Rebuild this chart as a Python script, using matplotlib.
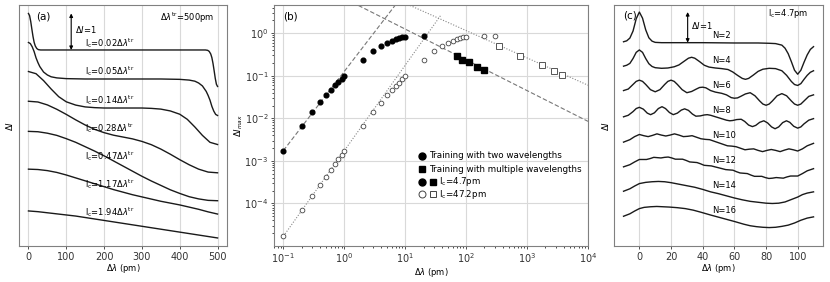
import matplotlib
matplotlib.use("Agg")
import matplotlib.pyplot as plt
from matplotlib.ticker import LogLocator, NullFormatter

# ---------------- panel (a): response for several correlation lengths ----------------
a_labels = ["0.02", "0.05", "0.14", "0.28", "0.47", "1.17", "1.94"]

a1_x = [0, 3, 6, 9, 12, 15, 18, 22, 26, 32, 40, 100, 200, 300, 400, 460, 468, 474, 478, 482, 485, 488, 491, 494, 497, 500]
a1_y = [1.0, 0.94, 0.78, 0.57, 0.37, 0.21, 0.11, 0.04, 0.01, 0.0, 0.0, 0.0, 0.0, 0.0, 0.0, 0.0, 0.0, -0.01, -0.04, -0.11, -0.21, -0.37, -0.57, -0.78, -0.94, -1.0]

a2_x = [0, 5, 10, 15, 20, 25, 30, 40, 50, 60, 75, 100, 150, 250, 350, 400, 425, 440, 450, 460, 470, 475, 480, 485, 490, 495, 500]
a2_y = [1.0, 0.97, 0.88, 0.75, 0.58, 0.45, 0.34, 0.19, 0.11, 0.06, 0.03, 0.01, 0.0, 0.0, 0.0, -0.01, -0.03, -0.06, -0.11, -0.19, -0.34, -0.45, -0.58, -0.75, -0.88, -0.97, -1.0]

a3_x = [0, 20, 40, 60, 80, 100, 125, 150, 175, 200, 250, 300, 325, 350, 375, 400, 420, 440, 460, 480, 500]
a3_y = [1.0, 0.94, 0.75, 0.52, 0.31, 0.17, 0.08, 0.03, 0.01, 0.0, 0.0, 0.0, -0.01, -0.03, -0.08, -0.17, -0.31, -0.52, -0.75, -0.94, -1.0]

a_grid = [0, 25, 50, 75, 100, 125, 150, 175, 200, 225, 250, 275, 300, 325, 350, 375, 400, 425, 450, 475, 500]
a4_y = [0.98, 0.96, 0.88, 0.76, 0.62, 0.47, 0.33, 0.21, 0.12, 0.05, 0.0, -0.05, -0.12, -0.21, -0.33, -0.47, -0.62, -0.76, -0.88, -0.96, -0.98]
a5_y = [0.95, 0.94, 0.9, 0.84, 0.75, 0.65, 0.53, 0.41, 0.28, 0.14, 0.0, -0.14, -0.28, -0.41, -0.53, -0.65, -0.75, -0.84, -0.9, -0.94, -0.95]
a6_y = [0.71, 0.70, 0.67, 0.62, 0.55, 0.47, 0.39, 0.31, 0.23, 0.15, 0.08, 0.01, -0.05, -0.11, -0.17, -0.22, -0.27, -0.33, -0.39, -0.46, -0.52]
a7_y = [0.36, 0.34, 0.31, 0.28, 0.25, 0.22, 0.18, 0.14, 0.10, 0.06, 0.02, -0.02, -0.06, -0.10, -0.14, -0.18, -0.22, -0.26, -0.30, -0.34, -0.38]

a_curves = [(a1_x, a1_y), (a2_x, a2_y), (a3_x, a3_y), (a_grid, a4_y),
            (a_grid, a5_y), (a_grid, a6_y), (a_grid, a7_y)]

# ---------------- panel (b): maximum response vs wavelength separation ----------------
two_s_x = [0.1, 0.2, 0.3, 0.4, 0.5, 0.6, 0.7, 0.8, 0.9, 1, 2, 3, 4, 5, 6, 7, 8, 9, 10, 20]
two_s_y = [1.75e-3, 6.6e-3, 0.0144, 0.024, 0.035, 0.047, 0.06, 0.072, 0.085, 0.1,
           0.24, 0.38, 0.50, 0.59, 0.67, 0.72, 0.76, 0.80, 0.83, 0.85]
multi_s_x = [70, 85, 110, 150, 200]
multi_s_y = [0.29, 0.24, 0.21, 0.165, 0.134]

two_l_x = [0.1, 0.2, 0.3, 0.4, 0.5, 0.6, 0.7, 0.8, 0.9, 1, 2, 3, 4, 5, 6, 7, 8, 9, 10,
           20, 30, 40, 50, 60, 70, 80, 90, 100, 200, 300]
two_l_y = [1.7e-5, 6.9e-5, 1.5e-4, 2.7e-4, 4.2e-4, 6.0e-4, 8.4e-4, 1.1e-3, 1.4e-3, 1.7e-3,
           6.7e-3, 0.0144, 0.023, 0.035, 0.046, 0.057, 0.069, 0.082, 0.098,
           0.24, 0.38, 0.50, 0.59, 0.67, 0.72, 0.76, 0.80, 0.82, 0.85, 0.85]
multi_l_x = [350, 780, 1750, 2750, 3800]
multi_l_y = [0.50, 0.29, 0.175, 0.127, 0.104]

fit_s_up_x, fit_s_up_y = [0.1, 6.8], [1.75e-3, 4.5]
fit_s_dn_x, fit_s_dn_y = [1.7, 1e4], [4.5, 0.0085]
fit_l_up_x, fit_l_up_y = [0.1, 38], [1.7e-5, 2.6]
fit_l_dn_x, fit_l_dn_y = [12, 1e4], [4.5, 0.06]

# ---------------- panel (c): response for N training wavelengths ----------------
c_labels = ["N=2", "N=4", "N=6", "N=8", "N=10", "N=12", "N=14", "N=16"]

c2_x = [-10, -8, -6, -4, -2, 0, 2, 4, 6, 8, 10, 14, 20, 40, 60, 75, 82, 86, 90, 92, 94, 96, 98, 100, 102, 104, 106, 108, 110]
c2_y = [0.03, 0.06, 0.15, 0.38, 0.78, 1.0, 0.80, 0.42, 0.16, 0.05, 0.01, 0.0, 0.0, 0.0, -0.01, -0.01, -0.02, -0.03, -0.08, -0.18, -0.36, -0.62, -0.9, -1.03, -0.9, -0.64, -0.4, -0.22, -0.13]

c4_x = [-10, -8, -6, -4, -2, 0, 2, 4, 6, 8, 10, 14, 18, 22, 25, 28, 31, 33, 35, 38, 41, 44, 48, 52, 56,
        59, 62, 65, 67, 69, 72, 75, 78, 82, 86, 90, 93, 96, 98, 100, 102, 104, 106, 108, 110]
c4_y = [0.05, 0.08, 0.14, 0.3, 0.5, 0.58, 0.5, 0.3, 0.13, 0.04, 0.0, -0.02, -0.01, 0.03, 0.09, 0.2, 0.31, 0.34, 0.31, 0.2, 0.08, 0.02, -0.01, -0.03, -0.06,
        -0.14, -0.25, -0.35, -0.38, -0.35, -0.24, -0.12, -0.05, -0.02, -0.03, -0.1, -0.25, -0.45, -0.55, -0.58, -0.52, -0.38, -0.25, -0.15, -0.1]

c6_x = [-10, -7, -4, -2, 0, 2, 4, 7, 10, 13, 16, 18, 20, 22, 24, 27, 30, 33, 36, 38, 40, 42, 45, 48,
        52, 55, 58, 60, 62, 64, 67, 70, 73, 76, 78, 80, 82, 84, 87, 90, 93, 96, 98, 100, 102, 104, 107, 110]
c6_y = [0.07, 0.12, 0.27, 0.37, 0.41, 0.37, 0.27, 0.1, 0.03, 0.1, 0.27, 0.37, 0.41, 0.37, 0.27, 0.1, 0.0, 0.04, 0.12, 0.17, 0.18, 0.16, 0.07, 0.02,
        -0.02, -0.07, -0.16, -0.18, -0.17, -0.12, -0.04, 0.0, -0.1, -0.27, -0.37, -0.41, -0.37, -0.27, -0.1, -0.03, -0.1, -0.27, -0.37, -0.41, -0.37, -0.27, -0.12, -0.07]

c8_x = [-10, -7, -4, -2, 0, 2.5, 5, 7.1, 9.5, 12, 14.3, 16.5, 19, 21.4, 24, 26.5, 28.6, 31, 33.5, 35.7, 38.5, 41, 42.9, 45, 47.5, 50,
        52.5, 55, 57.1, 59, 61.5, 64.3, 66.5, 69, 71.4, 73.5, 76, 78.6, 81, 83.5, 85.7, 88, 90.5, 92.9, 95, 97.5, 100, 102, 104, 107, 110]
c8_y = [0.03, 0.08, 0.2, 0.3, 0.34, 0.28, 0.15, 0.1, 0.16, 0.3, 0.36, 0.3, 0.17, 0.1, 0.15, 0.25, 0.29, 0.24, 0.12, 0.05, 0.06, 0.09, 0.1, 0.08, 0.04, 0.0,
        -0.04, -0.08, -0.1, -0.09, -0.06, -0.05, -0.12, -0.24, -0.29, -0.25, -0.15, -0.1, -0.17, -0.3, -0.36, -0.3, -0.16, -0.1, -0.15, -0.28, -0.34, -0.3, -0.2, -0.08, -0.03]

c10_x = [-10, -6, -3, 0, 2.8, 5.55, 8.3, 11.1, 13.9, 16.7, 19.4, 22.2, 25, 27.8, 30.5, 33.3, 36.1, 38.9, 41.7, 44.4, 47.2, 50,
         52.8, 55.6, 58.3, 61.1, 63.9, 66.7, 69.5, 72.2, 75, 77.8, 80.6, 83.3, 86.1, 88.9, 91.7, 94.45, 97.2, 100, 103, 106, 110]
c10_y = [0.02, 0.1, 0.2, 0.27, 0.23, 0.2, 0.24, 0.29, 0.25, 0.22, 0.25, 0.29, 0.25, 0.2, 0.21, 0.23, 0.18, 0.13, 0.11, 0.1, 0.05, 0.0,
         -0.05, -0.1, -0.11, -0.13, -0.18, -0.23, -0.21, -0.2, -0.25, -0.29, -0.25, -0.22, -0.25, -0.29, -0.24, -0.2, -0.23, -0.27, -0.2, -0.1, -0.02]

c12_x = [-10, -6, -3, 0, 2.3, 4.5, 6.8, 9.1, 11.4, 13.6, 15.9, 18.2, 20.5, 22.7, 25, 27.3, 29.5, 31.8, 34.1, 36.4, 38.6, 40.9, 43.2, 45.5, 47.7, 50,
         52.3, 54.5, 56.8, 59.1, 61.4, 63.6, 65.9, 68.2, 70.5, 72.7, 75, 77.3, 79.5, 81.8, 84.1, 86.4, 88.6, 90.9, 93.2, 95.5, 97.7, 100, 103, 106, 110]
c12_y = [0.03, 0.1, 0.19, 0.27, 0.27, 0.27, 0.3, 0.34, 0.33, 0.32, 0.34, 0.35, 0.32, 0.28, 0.28, 0.28, 0.24, 0.19, 0.18, 0.17, 0.13, 0.08, 0.07, 0.06, 0.03, 0.0,
         -0.03, -0.06, -0.07, -0.08, -0.13, -0.17, -0.18, -0.19, -0.24, -0.28, -0.28, -0.28, -0.32, -0.35, -0.34, -0.32, -0.33, -0.34, -0.3, -0.27, -0.27, -0.27, -0.19, -0.1, -0.03]

c14_x = [-10, -6, -3, 0, 4, 8, 12, 16, 20, 25, 30, 35, 40, 45, 50, 55, 60, 65, 70, 75, 80, 84, 88, 92, 96, 100, 103, 106, 110]
c14_y = [0.05, 0.13, 0.22, 0.3, 0.34, 0.36, 0.37, 0.36, 0.33, 0.28, 0.23, 0.18, 0.11, 0.03, -0.03, -0.1, -0.17, -0.23, -0.28, -0.31, -0.34, -0.35, -0.34, -0.3, -0.22, -0.14, -0.06, -0.01, 0.03]

c16_x = [-10, -6, -3, 0, 3, 7, 11, 15, 19, 24, 29, 34, 39, 45, 50, 55, 60, 66, 70, 74, 78, 82, 86, 90, 94, 98, 102, 106, 110]
c16_y = [0.05, 0.13, 0.22, 0.3, 0.34, 0.36, 0.37, 0.36, 0.35, 0.33, 0.3, 0.25, 0.18, 0.09, 0.02, -0.05, -0.12, -0.21, -0.26, -0.29, -0.31, -0.32, -0.31, -0.28, -0.24, -0.17, -0.08, -0.01, 0.03]

c_curves = [(c2_x, c2_y), (c4_x, c4_y), (c6_x, c6_y), (c8_x, c8_y),
            (c10_x, c10_y), (c12_x, c12_y), (c14_x, c14_y), (c16_x, c16_y)]

FS = 7       # tick labels
FS_T = 6     # annotations / axis labels
FS_L = 6.3   # legend
LINE = "#1a1a1a"
GRID = "#d9d9d9"
SPINE = "#808080"

plt.rcParams["font.family"] = ["DejaVu Sans"]
plt.rcParams["font.size"] = FS
plt.rcParams["mathtext.fontset"] = "dejavusans"

fig = plt.figure(figsize=(8.3, 2.82), dpi=100)
bottom, height = 0.1277, 0.853
ax_a = fig.add_axes([0.0229, bottom, 0.2506, height])
ax_b = fig.add_axes([0.3301, bottom, 0.3783, height])
ax_c = fig.add_axes([0.7398, bottom, 0.2518, height])


def style_axes(ax):
    for sp in ax.spines.values():
        sp.set_color(SPINE)
        sp.set_linewidth(0.8)
    ax.tick_params(labelsize=FS, colors="#333333", length=2.5, width=0.6, pad=1.5)
    ax.tick_params(which="minor", length=1.6, width=0.5)


# ---- (a)
a_step = 0.795
for k, (x, y) in enumerate(a_curves):
    ax_a.plot(x, [v - k * a_step for v in y], color=LINE, lw=1.0)
    ax_a.text(150, 0.18 - 0.77 * k,
              r"l$_\mathregular{c}$=" + a_labels[k] + r"$\Delta\lambda^\mathregular{tr}$",
              fontsize=FS_T, va="center", ha="left")
ax_a.annotate("", xy=(113, 0.0), xytext=(113, 1.0),
              arrowprops=dict(arrowstyle="<|-|>", color="k", lw=0.8,
                              mutation_scale=5, shrinkA=0, shrinkB=0))
ax_a.text(122, 0.55, r"$\Delta I$=1", fontsize=FS_T, va="center")
ax_a.text(20, 0.91, "(a)", fontsize=7.5, va="center")
ax_a.text(492, 0.87, r"$\Delta\lambda^\mathregular{tr}$=500pm", fontsize=FS_T, va="center", ha="right")
ax_a.set_xlim(-25, 525)
ax_a.set_ylim(-5.37, 1.22)
ax_a.set_xticks([0, 100, 200, 300, 400, 500])
ax_a.set_yticks([])
ax_a.grid(axis="x", color=GRID, lw=0.8)
ax_a.set_axisbelow(True)
ax_a.set_xlabel(r"$\Delta\lambda$ (pm)", fontsize=FS_T, labelpad=0.5)
ax_a.set_ylabel(r"$\Delta I$", fontsize=FS_T)
ax_a.yaxis.set_label_coords(-0.02, 0.5)
style_axes(ax_a)

# ---- (b)
ax_b.plot(fit_s_up_x, fit_s_up_y, color="#777777", lw=0.8, ls=(0, (4, 2)))
ax_b.plot(fit_s_dn_x, fit_s_dn_y, color="#777777", lw=0.8, ls=(0, (4, 2)))
ax_b.plot(fit_l_up_x, fit_l_up_y, color="#888888", lw=0.8, ls=(0, (1, 1.5)))
ax_b.plot(fit_l_dn_x, fit_l_dn_y, color="#888888", lw=0.8, ls=(0, (1, 1.5)))
ax_b.plot(two_s_x, two_s_y, "o", color="k", ms=3.4)
ax_b.plot(multi_s_x, multi_s_y, "s", color="k", ms=4.6)
ax_b.plot(two_l_x, two_l_y, "o", mfc="white", mec="#444444", mew=0.6, ms=3.4)
ax_b.plot(multi_l_x, multi_l_y, "s", mfc="white", mec="#555555", mew=0.7, ms=4.4)
ax_b.set_xscale("log")
ax_b.set_yscale("log")
ax_b.set_xlim(0.07, 1e4)
ax_b.set_ylim(1e-5, 4.5)
ax_b.xaxis.set_minor_locator(LogLocator(base=10, subs=range(2, 10), numticks=20))
ax_b.yaxis.set_minor_locator(LogLocator(base=10, subs=range(2, 10), numticks=20))
ax_b.xaxis.set_minor_formatter(NullFormatter())
ax_b.yaxis.set_minor_formatter(NullFormatter())
ax_b.set_yticks([1e-4, 1e-3, 1e-2, 1e-1, 1e0])
ax_b.grid(which="major", color=GRID, lw=0.8)
ax_b.set_axisbelow(True)
ax_b.set_xlabel(r"$\Delta\lambda$ (pm)", fontsize=FS_T, labelpad=0.5)
ax_b.set_ylabel(r"$\Delta I_{max}$", fontsize=FS_T)
ax_b.yaxis.set_label_coords(-0.092, 0.5)
ax_b.text(0.028, 0.956, "(b)", transform=ax_b.transAxes, fontsize=7.5, va="center")

# hand-made legend
rows = [0.376, 0.320, 0.267, 0.215]
tr = ax_b.transAxes
ax_b.plot([0.470], [rows[0]], "o", color="k", ms=5.0, transform=tr, clip_on=False)
ax_b.plot([0.470], [rows[1]], "s", color="k", ms=4.4, transform=tr, clip_on=False)
ax_b.plot([0.470], [rows[2]], "o", color="k", ms=5.0, transform=tr, clip_on=False)
ax_b.plot([0.507], [rows[2]], "s", color="k", ms=4.4, transform=tr, clip_on=False)
ax_b.plot([0.470], [rows[3]], "o", mfc="white", mec="#444444", mew=0.7, ms=5.0, transform=tr, clip_on=False)
ax_b.plot([0.507], [rows[3]], "s", mfc="white", mec="#444444", mew=0.7, ms=4.4, transform=tr, clip_on=False)
ax_b.text(0.495, rows[0], "Training with two wavelengths", transform=tr, va="center", fontsize=FS_L)
ax_b.text(0.495, rows[1], "Training with multiple wavelengths", transform=tr, va="center", fontsize=FS_L)
ax_b.text(0.525, rows[2], r"l$_\mathregular{c}$=4.7pm", transform=tr, va="center", fontsize=FS_L)
ax_b.text(0.525, rows[3], r"l$_\mathregular{c}$=47.2pm", transform=tr, va="center", fontsize=FS_L)
style_axes(ax_b)

# ---- (c)
c_step = 0.817
for k, (x, y) in enumerate(c_curves):
    ax_c.plot(x, [v - k * c_step for v in y], color=LINE, lw=1.0)
    ax_c.text(46, 0.25 - k * c_step, c_labels[k], fontsize=FS_T, va="center", ha="left")
ax_c.annotate("", xy=(30.5, 0.0), xytext=(30.5, 1.0),
              arrowprops=dict(arrowstyle="<|-|>", color="k", lw=0.8,
                              mutation_scale=5, shrinkA=0, shrinkB=0))
ax_c.text(32.4, 0.55, r"$\Delta I$=1", fontsize=FS_T, va="center")
ax_c.text(-10.5, 0.9, "(c)", fontsize=7.5, va="center")
ax_c.text(107, 0.94, r"l$_\mathregular{c}$=4.7pm", fontsize=FS_T, va="center", ha="right")
ax_c.set_xlim(-16, 116)
ax_c.set_ylim(-6.64, 1.216)
ax_c.set_xticks([0, 20, 40, 60, 80, 100])
ax_c.set_yticks([])
ax_c.grid(axis="x", color=GRID, lw=0.8)
ax_c.set_axisbelow(True)
ax_c.set_xlabel(r"$\Delta\lambda$ (pm)", fontsize=FS_T, labelpad=0.5)
ax_c.set_ylabel(r"$\Delta I$", fontsize=FS_T)
ax_c.yaxis.set_label_coords(-0.014, 0.5)
style_axes(ax_c)

fig.savefig("out.png", dpi=100)
